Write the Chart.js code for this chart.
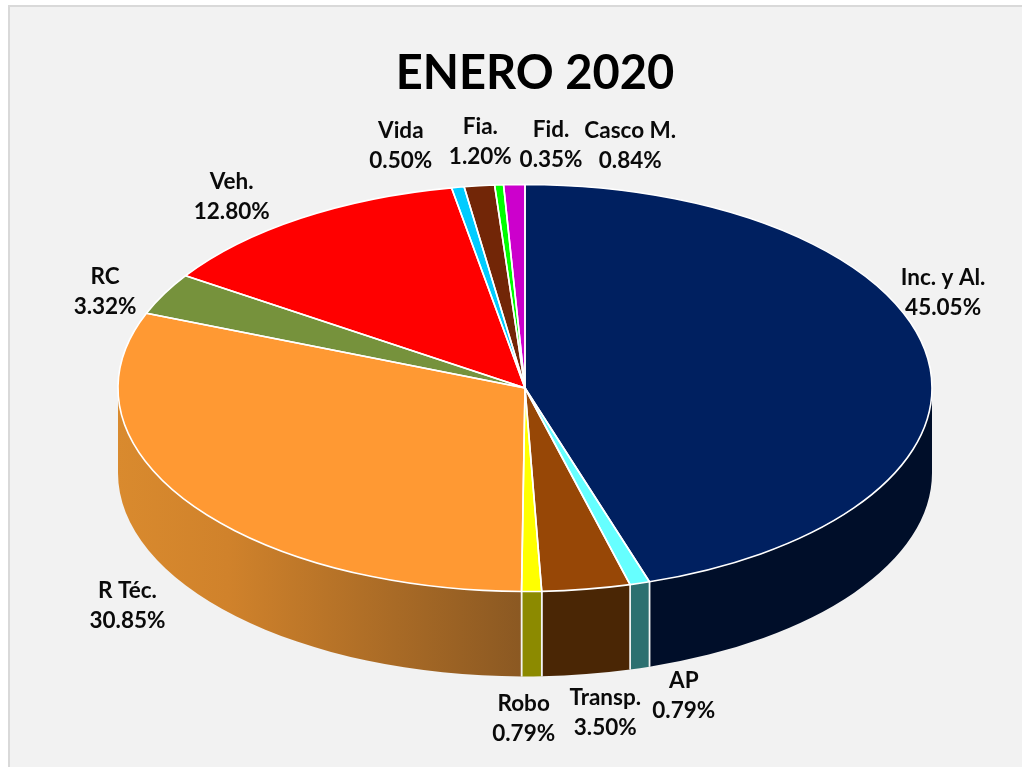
<!DOCTYPE html>
<html>
<head>
<meta charset="utf-8">
<script src="https://cdn.jsdelivr.net/npm/chart.js@4"></script>
<style>
html,body{margin:0;padding:0;background:#fff;width:1022px;height:767px;overflow:hidden}
#frame{position:absolute;left:8px;top:5px;width:1014px;height:762px;background:#f2f2f2;border-left:2px solid #d9d9d9;border-top:2px solid #d9d9d9;box-sizing:border-box}
canvas{position:absolute;left:0;top:0}
</style>
</head>
<body>
<div id="frame"></div>
<canvas id="c" width="1022" height="767"></canvas>
<script>
const categories = ['Inc. y Al.','AP','Transp.','Robo','R Téc.','RC','Veh.','Vida','Fia.','Fid.','Casco M.'];
const shares = [45.05,0.79,3.50,0.79,30.85,3.32,12.80,0.50,1.20,0.35,0.84];
const topColors = ['#002060','#66ffff','#974706','#ffff00','#ff9933','#76923c','#ff0000','#00ccff','#722607','#00ff00','#cc00cc'];
const wallColors = ['#000e29','#2c7070','#4a2605','#8c8a00',null,'#4a5c25','#990000','#007a99','#441604','#009900','#7a007a'];
const labelOffsets = [[16,-64],[44,113],[19,124],[-8,127],[-60,104],[-59,-2],[-69,-21],[-57,-42],[1,-44],[52,-40],[116,-39]];

const CX = 525, CY = 388, RX = 407, RY = 203.5, DEPTH = 85;

function tilt(ctx, arc) {
  const k = arc.outerRadius;
  ctx.translate(CX, CY);
  ctx.scale(RX / k, RY / k);
  ctx.translate(-arc.x, -arc.y);
}

const pie3d = {
  id: 'pie3d',
  beforeDatasetsDraw(chart) {
    const ctx = chart.ctx, arcs = chart.getDatasetMeta(0).data;
    arcs.forEach((arc, i) => {
      const a0 = Math.max(arc.startAngle, 0), a1 = Math.min(arc.endAngle, Math.PI);
      if (a1 <= a0) return;
      let fill = wallColors[i];
      if (!fill) {
        fill = ctx.createLinearGradient(CX - RX, 0, CX, 0);
        fill.addColorStop(0, '#d98a2e');
        fill.addColorStop(0.27, '#d0822b');
        fill.addColorStop(1, '#8a5822');
      }
      ctx.save();
      ctx.beginPath();
      ctx.ellipse(CX, CY, RX, RY, 0, a0, a1);
      ctx.ellipse(CX, CY + DEPTH, RX, RY, 0, a1, a0, true);
      ctx.closePath();
      ctx.fillStyle = fill;
      ctx.fill();
      ctx.strokeStyle = '#f4f4f4';
      ctx.lineWidth = 1.6;
      [arc.startAngle, arc.endAngle].forEach(a => {
        if (a > 0 && a < Math.PI) {
          const x = CX + RX * Math.cos(a), y = CY + RY * Math.sin(a);
          ctx.beginPath();
          ctx.moveTo(x, y);
          ctx.lineTo(x, y + DEPTH);
          ctx.stroke();
        }
      });
      ctx.restore();
    });
    ctx.save();
    tilt(ctx, arcs[0]);
  },
  afterDatasetsDraw(chart) {
    const ctx = chart.ctx, arcs = chart.getDatasetMeta(0).data;
    ctx.restore();
    ctx.save();
    ctx.strokeStyle = '#ffffff';
    ctx.lineWidth = 1.6;
    ctx.lineJoin = 'round';
    arcs.forEach(arc => {
      ctx.beginPath();
      ctx.moveTo(CX, CY);
      ctx.ellipse(CX, CY, RX, RY, 0, arc.startAngle, arc.endAngle);
      ctx.closePath();
      ctx.stroke();
    });
    ctx.fillStyle = '#0a0a0a';
    ctx.font = 'bold 22.5px Lato, "Open Sans", sans-serif';
    ctx.textAlign = 'center';
    ctx.textBaseline = 'middle';
    arcs.forEach((arc, i) => {
      const mid = (arc.startAngle + arc.endAngle) / 2;
      const x = CX + RX * Math.cos(mid) + labelOffsets[i][0];
      const y = CY + RY * Math.sin(mid) + labelOffsets[i][1];
      ctx.fillText(categories[i], x, y - 15);
      ctx.fillText(shares[i].toFixed(2) + '%', x, y + 15);
    });
    ctx.restore();
  }
};

new Chart(document.getElementById('c'), {
  type: 'pie',
  data: {
    labels: categories,
    datasets: [{
      data: shares,
      backgroundColor: topColors,
      borderWidth: 0,
      clip: false
    }]
  },
  options: {
    responsive: false,
    animation: false,
    layout: { padding: { left: 148, right: 100, top: 20, bottom: 30 } },
    plugins: {
      legend: { display: false },
      tooltip: { enabled: false },
      title: {
        display: true,
        fullSize: false,
        text: 'ENERO 2020',
        color: '#000000',
        font: { family: 'Lato, "Open Sans", sans-serif', size: 47, weight: 'bold' },
        padding: { top: 26, bottom: 10 }
      }
    }
  },
  plugins: [pie3d]
});
</script>
</body>
</html>
